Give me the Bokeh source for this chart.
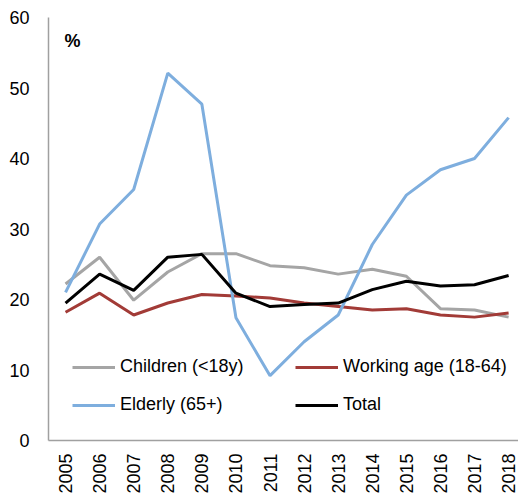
import math
from bokeh.plotting import figure
from bokeh.models import Range1d, FixedTicker, Legend, LegendItem, Label
from bokeh.embed import file_html
from bokeh.resources import INLINE

years = list(range(2005, 2019))
children = [22.2, 26.0, 19.9, 23.9, 26.5, 26.5, 24.8, 24.5, 23.6, 24.3, 23.3, 18.7, 18.5, 17.5]
working_age = [18.2, 20.9, 17.8, 19.5, 20.7, 20.5, 20.2, 19.5, 19.0, 18.5, 18.7, 17.8, 17.5, 18.1]
elderly = [21.0, 30.7, 35.6, 52.1, 47.7, 17.4, 9.2, 14.0, 17.8, 27.8, 34.8, 38.4, 40.0, 45.8]
total = [19.5, 23.6, 21.3, 26.0, 26.4, 20.9, 19.0, 19.3, 19.5, 21.4, 22.6, 21.9, 22.1, 23.4]
y_ticks = [0, 10, 20, 30, 40, 50, 60]

FONT = "Liberation Sans"

p = figure(frame_width=470, frame_height=423, output_backend="svg", toolbar_location=None,
           x_range=Range1d(2004.5, 2018.29), y_range=Range1d(0, 60),
           min_border_left=48, min_border_right=0, min_border_top=17, min_border_bottom=40)
p.outline_line_color = None
p.xgrid.visible = False
p.ygrid.visible = False

r_child = p.line(years, children, line_color="#A5A5A5", line_width=3)
r_work = p.line(years, working_age, line_color="#A23B37", line_width=3)
r_eld = p.line(years, elderly, line_color="#7EAEDE", line_width=3)
r_tot = p.line(years, total, line_color="#000000", line_width=3)

for ax in (p.xaxis[0], p.yaxis[0]):
    ax.axis_line_color = "#A0A0A0"
    ax.axis_line_width = 1.5
    ax.major_tick_line_color = None
    ax.minor_tick_line_color = None
    ax.major_label_text_font = FONT
    ax.major_label_text_font_size = "18px"
    ax.major_label_text_color = "#000000"

p.yaxis[0].ticker = FixedTicker(ticks=y_ticks)
p.yaxis[0].major_label_standoff = 13
p.xaxis[0].ticker = FixedTicker(ticks=years)
p.xaxis[0].major_label_orientation = math.pi / 2
p.xaxis[0].major_label_standoff = 7

p.add_layout(Label(x=2004.97, y=56.6, text="%", text_font=FONT, text_font_size="18px",
                   text_font_style="bold", text_baseline="middle", text_color="#000000"))

def make_legend(items, loc):
    lg = Legend(items=items, location=loc, orientation="vertical",
                border_line_color=None, background_fill_alpha=0,
                padding=0, margin=0, spacing=17, glyph_width=43, glyph_height=20,
                label_height=20, label_standoff=5,
                label_text_font=FONT, label_text_font_size="18px", label_text_color="#000000")
    return lg

lg1 = make_legend([LegendItem(label="Children (<18y)", renderers=[r_child]),
                   LegendItem(label="Elderly (65+)", renderers=[r_eld])], (24, 25))
lg2 = make_legend([LegendItem(label="Working age (18-64)", renderers=[r_work]),
                   LegendItem(label="Total", renderers=[r_tot])], (247, 25))
p.add_layout(lg1, "center")
p.add_layout(lg2, "center")

open("out.html", "w").write(file_html(p, INLINE))
